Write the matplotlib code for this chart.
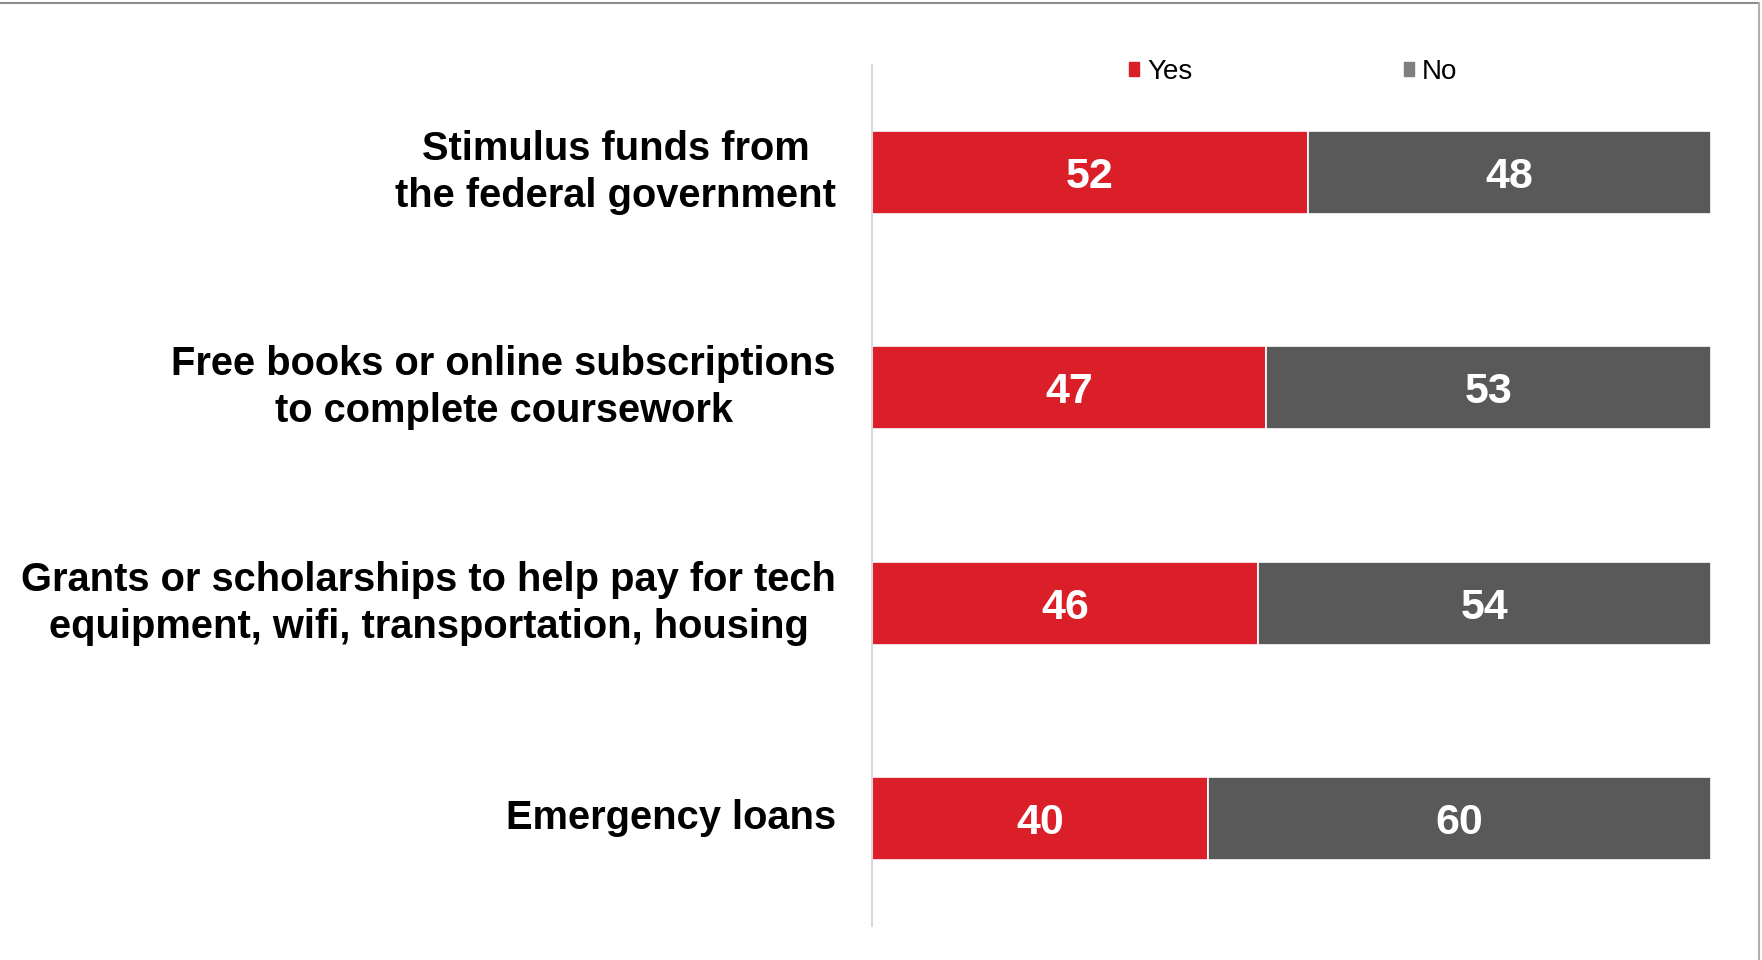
import matplotlib.pyplot as plt
from matplotlib.patches import Patch
from matplotlib.lines import Line2D

plt.rcParams['font.family'] = ['Liberation Sans', 'DejaVu Sans']

# survey answers, top to bottom
categories = [
    "Stimulus funds from\nthe federal government",
    "Free books or online subscriptions\nto complete coursework",
    "Grants or scholarships to help pay for tech\nequipment, wifi, transportation, housing",
    "Emergency loans",
]
yes_vals = [52, 47, 46, 40]
no_vals = [48, 53, 54, 60]

red = '#DA1F28'
grey = '#595959'

fig = plt.figure(figsize=(17.62, 9.6), dpi=100)
ax = fig.add_axes([0.4949, 0.0354, 0.9711 - 0.4949, 0.9323 - 0.0354])

ypos = list(range(len(categories)))
ax.barh(ypos, yes_vals, height=0.386, color=red, edgecolor='white', linewidth=1.2)
ax.barh(ypos, no_vals, left=yes_vals, height=0.386, color=grey, edgecolor='white', linewidth=1.2)

for y, a, b in zip(ypos, yes_vals, no_vals):
    ax.text(a / 2, y, str(a), ha='center', va='center_baseline', color='white',
            fontsize=31, fontweight='bold')
    ax.text(a + b / 2, y, str(b), ha='center', va='center_baseline', color='white',
            fontsize=31, fontweight='bold')

ax.set_xlim(0, 100)
ax.set_ylim(len(categories) - 0.5, -0.5)
ax.set_xticks([])
ax.set_yticks(ypos)
ax.set_yticklabels(categories, fontsize=28.7, fontweight='bold',
                   multialignment='center', linespacing=1.3, va='center')
ax.tick_params(axis='y', length=0, pad=26)
for s in ['top', 'right', 'bottom']:
    ax.spines[s].set_visible(False)
ax.spines['left'].set_color('#d9d9d9')
ax.spines['left'].set_linewidth(1.5)

handles = [Patch(color=red, label='Yes'), Patch(color='#7f7f7f', label='No')]
fig.legend(handles=handles, loc='center', bbox_to_anchor=(0.734, 0.925),
           ncol=2, frameon=False, fontsize=20, handlelength=0.36,
           handleheight=0.36, handletextpad=0.3, columnspacing=7.6,
           borderpad=0)

# thin frame along the top and right edges
fig.add_artist(Line2D([0, 0.9983], [0.9969, 0.9969], color='#8c8c8c', lw=1.5,
                      transform=fig.transFigure))
fig.add_artist(Line2D([0.9983, 0.9983], [0, 0.9969], color='#b0b0b0', lw=1.5,
                      transform=fig.transFigure))

fig.savefig('out.png', dpi=100, facecolor='white')
